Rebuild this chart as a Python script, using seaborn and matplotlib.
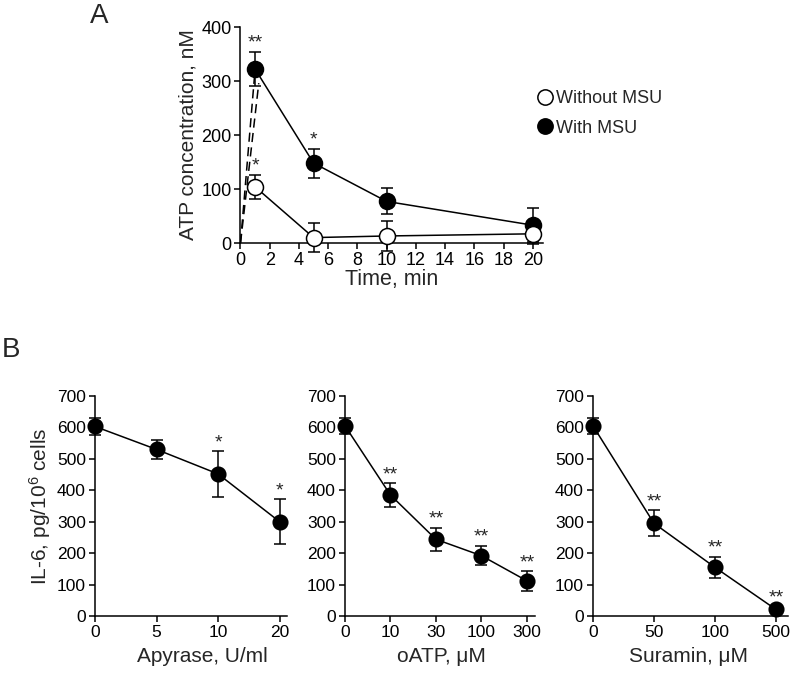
import numpy as np
import pandas as pd
import matplotlib
matplotlib.use("Agg")
import matplotlib.pyplot as plt
from matplotlib.lines import Line2D
import seaborn as sns

# ---------- data ----------
# Panel A: ATP release over time
time_min = [1, 5, 10, 20]
atp_with = [322, 148, 77, 33]
atp_with_err = [32, 27, 24, 31]
atp_without = [104, 10, 13, 17]
atp_without_err = [22, 27, 27, 18]
atp_with_stars = ["**", "*", "", ""]
atp_without_stars = ["*", "", "", ""]
# dashed rise from the origin to the first time point
dash_x1 = [0, 1]
dash_y1 = [0, 322]
dash_x2 = [0, 1.25]
dash_y2 = [0, 296]

# Panel B: IL-6 with inhibitors
apyrase_dose = ["0", "5", "10", "20"]
apyrase_il6 = [603, 530, 452, 300]
apyrase_err = [27, 30, 73, 71]
apyrase_stars = ["", "", "*", "*"]

oatp_dose = ["0", "10", "30", "100", "300"]
oatp_il6 = [605, 385, 244, 192, 112]
oatp_err = [26, 37, 37, 31, 31]
oatp_stars = ["", "**", "**", "**", "**"]

suramin_dose = ["0", "50", "100", "500"]
suramin_il6 = [605, 295, 155, 21]
suramin_err = [26, 42, 34, 10]
suramin_stars = ["", "**", "**", "**"]

# ---------- style ----------
sns.set_theme(style="ticks")
plt.rcParams["font.family"] = ["Liberation Sans", "DejaVu Sans"]
plt.rcParams["mathtext.fontset"] = "custom"
plt.rcParams["mathtext.rm"] = "Liberation Sans"
plt.rcParams["mathtext.default"] = "regular"
plt.rcParams["axes.linewidth"] = 1.1
plt.rcParams["xtick.major.width"] = 1.1
plt.rcParams["ytick.major.width"] = 1.1
plt.rcParams["xtick.major.size"] = 4.5
plt.rcParams["ytick.major.size"] = 4.5
plt.rcParams["xtick.color"] = "black"
plt.rcParams["ytick.color"] = "black"
plt.rcParams["axes.edgecolor"] = "black"

fig = plt.figure(figsize=(8.0, 6.74), dpi=100)


def series(ax, x, y, err, stars, face, ms, star_size, z=3):
    df = pd.DataFrame({"x": x, "y": y})
    ax.errorbar(x, y, yerr=err, fmt="none", ecolor="black", elinewidth=1.1,
                capsize=4.5, capthick=1.1, zorder=z, clip_on=False)
    sns.lineplot(data=df, x="x", y="y", ax=ax, color="black", lw=1.1,
                 sort=False, zorder=z, marker="o", markersize=ms,
                 markerfacecolor=face, markeredgecolor="black",
                 markeredgewidth=1.1, clip_on=False)
    for xi, yi, ei, s in zip(x, y, err, stars):
        if s:
            ax.annotate(s, (xi, yi + ei), xytext=(0, 0), textcoords="offset points",
                        ha="center", va="bottom", fontsize=star_size)


# ---------- Panel A ----------
axA = fig.add_axes([240.5 / 800, 1 - 243 / 674, (543 - 240.5) / 800, 216 / 674])
sns.lineplot(x=dash_x1, y=dash_y1, ax=axA, color="black", lw=1.1, linestyle=(0, (6, 3.5)))
sns.lineplot(x=dash_x2, y=dash_y2, ax=axA, color="black", lw=1.1, linestyle=(0, (6, 3.5)))
series(axA, time_min, atp_with, atp_with_err, atp_with_stars, "black", 11.5, 14, z=3)
series(axA, time_min, atp_without, atp_without_err, atp_without_stars, "white", 11.5, 14, z=4)
axA.set_xlim(0, 20.7)
axA.set_ylim(0, 400)
axA.set_xticks(range(0, 21, 2))
axA.set_yticks(range(0, 401, 100))
axA.tick_params(labelsize=13, pad=2)
axA.set_xlabel("Time, min", fontsize=15.5, labelpad=0)
axA.set_ylabel("ATP concentration, nM", fontsize=15, labelpad=3)
sns.despine(ax=axA)

handles = [
    Line2D([], [], marker="o", ls="none", ms=11, mfc="white", mec="black", mew=1.1,
           label="Without MSU"),
    Line2D([], [], marker="o", ls="none", ms=11, mfc="black", mec="black", mew=1.1,
           label="With MSU"),
]
fig.legend(handles=handles, loc="upper left", bbox_to_anchor=(538 / 800, 1 - 90 / 674),
           frameon=False, fontsize=13, handlelength=0.8, handletextpad=0.2,
           labelspacing=0.7, borderpad=0, borderaxespad=0)

fig.text(90 / 800, 1 - 23 / 674, "A", fontsize=20)
fig.text(2 / 800, 1 - 357 / 674, "B", fontsize=20)

# ---------- Panel B ----------
panels = [
    (95, 287, apyrase_dose, apyrase_il6, apyrase_err, apyrase_stars, 3.12,
     "Apyrase, U/ml", 0.56),
    (345, 535, oatp_dose, oatp_il6, oatp_err, oatp_stars, 4.18, "oATP, μM", 0.51),
    (593, 788, suramin_dose, suramin_il6, suramin_err, suramin_stars, 3.2,
     "Suramin, μM", 0.49),
]
for i, (x0, x1, dose, il6, err, stars, xmax, xlabel, lx) in enumerate(panels):
    ax = fig.add_axes([x0 / 800, 1 - 616 / 674, (x1 - x0) / 800, 220 / 674])
    series(ax, dose, il6, err, stars, "black", 10.5, 14)
    ax.set_xlim(0, xmax)
    ax.set_ylim(0, 700)
    ax.set_yticks(range(0, 701, 100))
    ax.tick_params(labelsize=12.5, pad=2)
    ax.set_xlabel(xlabel, fontsize=15, labelpad=3)
    ax.xaxis.set_label_coords(lx, -0.14)
    if i == 0:
        ax.set_ylabel("IL-6, pg/10$^{6}$ cells", fontsize=15, labelpad=3)
    else:
        ax.set_ylabel("")
    sns.despine(ax=ax)

fig.savefig("out.png", dpi=100)
